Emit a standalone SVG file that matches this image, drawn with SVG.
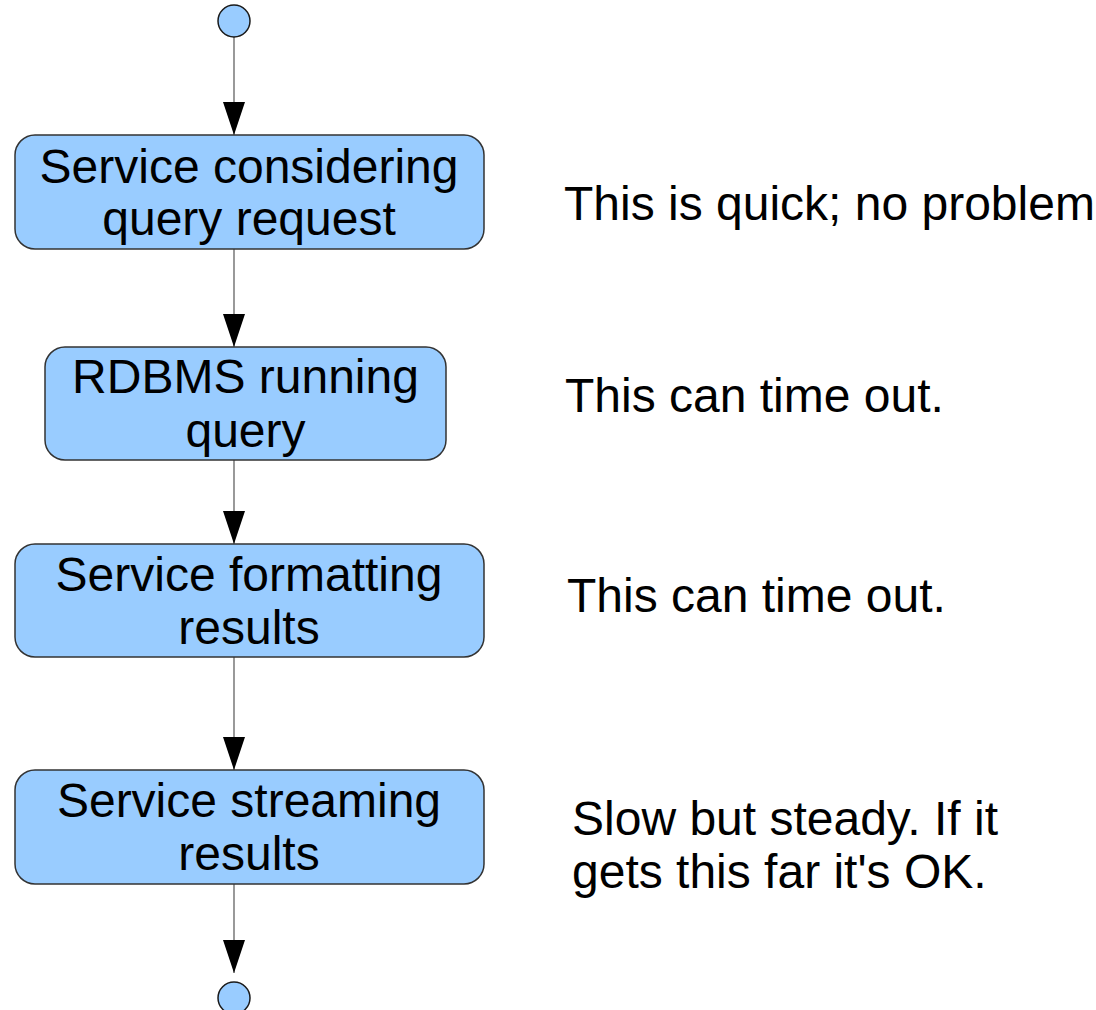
<svg xmlns="http://www.w3.org/2000/svg" width="1096" height="1010" viewBox="0 0 1096 1010">
  <style>
    .box { fill: #99ccff; stroke: #333333; stroke-width: 1.5; }
    .dot { fill: #99ccff; stroke: #1a1a1a; stroke-width: 1.5; }
    .edge { stroke: #808080; stroke-width: 1.6; fill: none; marker-end: url(#arrow); }
    text { font-family: "Liberation Sans", Arial, sans-serif; font-size: 48px; fill: #000000; }
    .c { text-anchor: middle; }
  </style>
  <defs>
    <marker id="arrow" markerUnits="userSpaceOnUse" viewBox="0 0 33 22" markerWidth="33" markerHeight="22" refX="33" refY="11" orient="auto">
      <path d="M0,0 L33,11 L0,22 z" fill="#000000"/>
    </marker>
  </defs>
  <rect width="1096" height="1010" fill="#ffffff"/>

  <g id="connectors">
    <line class="edge" x1="234" y1="37" x2="234" y2="135"/>
    <line class="edge" x1="234" y1="249" x2="234" y2="347"/>
    <line class="edge" x1="234" y1="460" x2="234" y2="544"/>
    <line class="edge" x1="234" y1="657" x2="234" y2="770"/>
    <line class="edge" x1="234" y1="884" x2="234" y2="973"/>
  </g>

  <g id="start">
    <circle class="dot" cx="234" cy="21" r="16"/>
  </g>

  <g id="node-considering">
    <rect class="box" x="15" y="135" width="469" height="114" rx="20" ry="20"/>
    <text class="c" x="249" y="183">Service considering</text>
    <text class="c" x="249" y="235">query request</text>
  </g>

  <g id="node-rdbms">
    <rect class="box" x="45" y="347" width="401" height="113" rx="20" ry="20"/>
    <text class="c" x="245.5" y="393">RDBMS running</text>
    <text class="c" x="245.5" y="447">query</text>
  </g>

  <g id="node-formatting">
    <rect class="box" x="15" y="544" width="469" height="113" rx="20" ry="20"/>
    <text class="c" x="249" y="591">Service formatting</text>
    <text class="c" x="249" y="644">results</text>
  </g>

  <g id="node-streaming">
    <rect class="box" x="15" y="770" width="469" height="114" rx="20" ry="20"/>
    <text class="c" x="249" y="817">Service streaming</text>
    <text class="c" x="249" y="870">results</text>
  </g>

  <g id="end">
    <circle class="dot" cx="234" cy="998" r="16"/>
  </g>

  <g id="notes">
    <text x="564" y="220">This is quick; no problem</text>
    <text x="565" y="412">This can time out.</text>
    <text x="567" y="612">This can time out.</text>
    <text x="572" y="835">Slow but steady. If it</text>
    <text x="572" y="888">gets this far it's OK.</text>
  </g>
</svg>
